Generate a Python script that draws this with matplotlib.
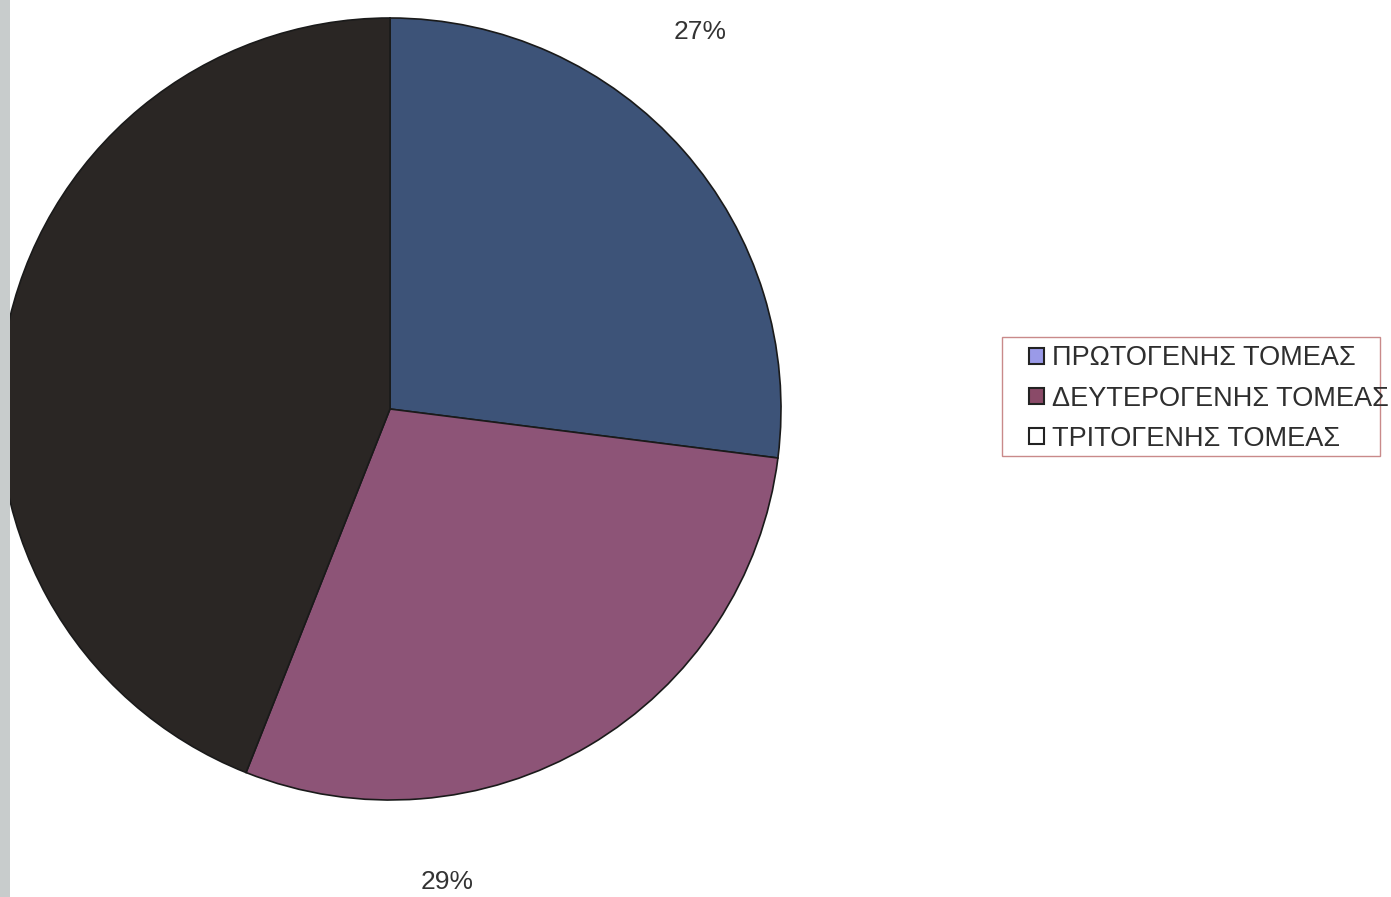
import matplotlib.pyplot as plt
from matplotlib.patches import Rectangle

sectors = ['ΠΡΩΤΟΓΕΝΗΣ ΤΟΜΕΑΣ', 'ΔΕΥΤΕΡΟΓΕΝΗΣ ΤΟΜΕΑΣ', 'ΤΡΙΤΟΓΕΝΗΣ ΤΟΜΕΑΣ']
shares = [27, 29, 44]
shown_labels = ['27%', '29%', None]

pie_colors = ['#3d5378', '#8d5477', '#2a2624']
legend_colors = ['#9a9ae8', '#8a4a68', '#ffffff']

plt.rcParams['font.family'] = ['Liberation Sans', 'DejaVu Sans']

fig = plt.figure(figsize=(13.91, 8.97), dpi=100)
W, H = 1391, 897

# pie centred at (390, 409) px, radius 391 px
cx, cy, r = 390, 409, 391
ax = fig.add_axes([(cx - r) / W, (H - cy - r) / H, 2 * r / W, 2 * r / H])
wedges, _ = ax.pie(shares, colors=pie_colors, startangle=90, counterclock=False,
                   radius=1.0, wedgeprops=dict(edgecolor='#1a1a1a', linewidth=1.2))
ax.set_xlim(-1, 1)
ax.set_ylim(-1, 1)
ax.set_aspect('equal')
ax.axis('off')

# percentage labels (positions in pie units)
label_pos = [(0.793, 0.964), (0.146, -1.21), None]
for lab, pos in zip(shown_labels, label_pos):
    if lab is None:
        continue
    ax.text(pos[0], pos[1], lab, ha='center', va='center', fontsize=19,
            color='#333333', clip_on=False)

# legend frame drawn separately so the inner padding can match
fig.patches.append(Rectangle((1002 / W, 1 - 456 / H), 378 / W, 119 / H,
                             transform=fig.transFigure, facecolor='white',
                             edgecolor='#c98a8a', linewidth=1.0, zorder=0))
handles = [Rectangle((0, 0), 1, 1, facecolor=c, edgecolor='#222222', linewidth=1.5)
           for c in legend_colors]
leg = fig.legend(handles, sectors, loc='upper left',
                 bbox_to_anchor=(1024 / W, 1 - 340 / H), fontsize=19.5,
                 frameon=False, handlelength=0.55, handleheight=0.55,
                 handletextpad=0.3, labelspacing=0.52, borderpad=0.2,
                 borderaxespad=0)
for t in leg.get_texts():
    t.set_color('#2e2e2e')

# grey scan strip on the left edge
fig.patches.append(Rectangle((0, 0), 10 / W, 1, transform=fig.transFigure,
                             facecolor='#c8cccc', edgecolor='none'))

fig.savefig('out.png', dpi=100, facecolor='white')
